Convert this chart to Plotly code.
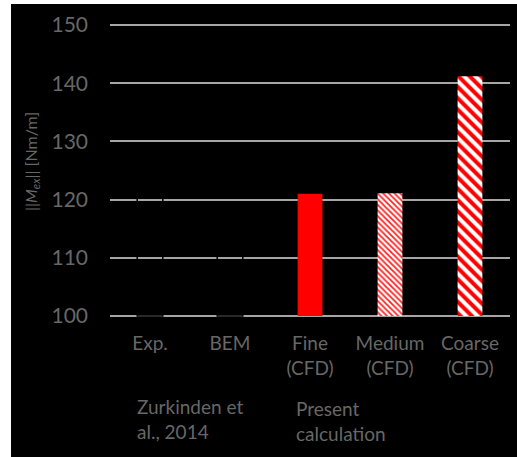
import plotly.graph_objects as go

# Category labels and moment amplitudes (Nm/m)
categories = ["Exp.", "BEM", "Fine<br>(CFD)", "Medium<br>(CFD)", "Coarse<br>(CFD)"]
reference_values = [125.0, 117.0]          # Zurkinden et al., 2014 (outline only)
cfd_values = [121.0, 121.1, 141.2]         # present calculation
y_ticks = [100, 110, 120, 130, 140, 150]

TXT = "#676767"
FONT = "Lato"

fig = go.Figure()

# Literature bars: no fill, black outline
fig.add_trace(go.Bar(
    x=categories[:2], y=[v - 100 for v in reference_values], base=100,
    width=0.32,
    marker=dict(color="rgba(0,0,0,0)", line=dict(color="black", width=1.5)),
    showlegend=False,
))

# CFD bars: solid, fine hatch, coarse hatch
fills = [
    dict(color="#ff0000", line=dict(width=0)),
    dict(color="white", line=dict(width=0),
         pattern=dict(shape="\\", fgcolor="#ff2020", bgcolor="#ffffff",
                      size=4, solidity=0.45, fillmode="replace")),
    dict(color="white", line=dict(width=0),
         pattern=dict(shape="\\", fgcolor="#ff0000", bgcolor="#ffffff",
                      size=8, solidity=0.5, fillmode="replace")),
]
for cat, val, m in zip(categories[2:], cfd_values, fills):
    fig.add_trace(go.Bar(x=[cat], y=[val - 100], base=100, width=0.31,
                         marker=m, showlegend=False))

# plot area: 100 -> y=316 px, 150 -> y=25 px (5.82 px per unit)
fig.update_layout(
    width=517, height=457,
    template="none",
    paper_bgcolor="black", plot_bgcolor="black",
    margin=dict(l=110, r=7, t=22, b=138),
    barmode="overlay",
    font=dict(family=FONT, color=TXT, size=19),
    xaxis=dict(type="category", categoryorder="array", categoryarray=categories,
               showgrid=False, zeroline=False, showline=False, ticks="",
               tickfont=dict(size=19, color=TXT), ticklabelstandoff=11),
    yaxis=dict(range=[99.5, 150.5], tickvals=y_ticks, showgrid=True,
               gridcolor="#a6a6a6", gridwidth=1.5, zeroline=False,
               showline=False, ticks="", tickfont=dict(size=21, color=TXT),
               ticklabelstandoff=21),
)

PX = 400.0   # plot width in px
PY = 297.0   # plot height in px
def px_x(x):
    return (x - 110) / PX
def px_y(y):
    return (319 - y) / PY

# Y-axis title
fig.add_annotation(text="||<i>M<sub>ex</sub></i>|| [Nm/m]", textangle=-90,
                   xref="paper", yref="paper", x=px_x(31), y=px_y(162),
                   showarrow=False, font=dict(size=16, color=TXT),
                   xanchor="center", yanchor="middle")

# Group captions under the categories
fig.add_annotation(text="Zurkinden et<br>al., 2014", xref="paper", yref="paper",
                   x=px_x(135), y=px_y(393), xanchor="left", yanchor="top",
                   align="left", showarrow=False, font=dict(size=19, color=TXT))
fig.add_annotation(text="Present<br>calculation", xref="paper", yref="paper",
                   x=px_x(294), y=px_y(395), xanchor="left", yanchor="top",
                   align="left", showarrow=False, font=dict(size=19, color=TXT))

# White page margin at the left and top edges
fig.add_shape(type="rect", xref="paper", yref="paper", layer="above",
              x0=-0.3, x1=px_x(11), y0=-0.6, y1=1.2,
              fillcolor="white", line=dict(width=0))
fig.add_shape(type="rect", xref="paper", yref="paper", layer="above",
              x0=-0.3, x1=1.1, y0=px_y(4), y1=1.2,
              fillcolor="white", line=dict(width=0))

fig.write_html("out.html")
